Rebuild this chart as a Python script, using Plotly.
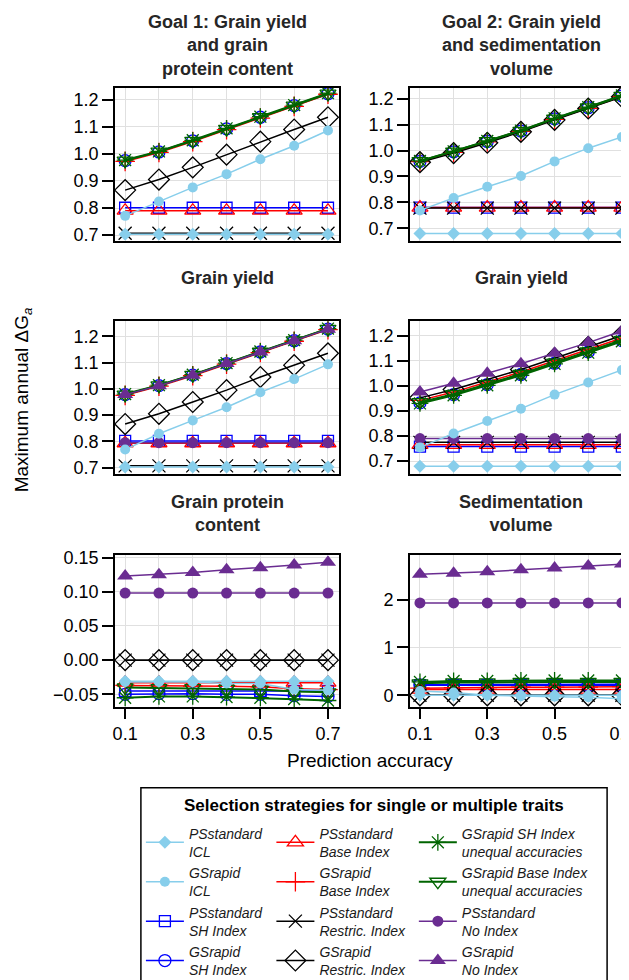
import plotly.graph_objects as go

# ---------------- data ----------------
accuracy = [0.1, 0.2, 0.3, 0.4, 0.5, 0.6, 0.7]
x_tickvals = [0.1, 0.3, 0.5, 0.7]

panel_titles = [
    "Goal 1: Grain yield<br>and grain<br>protein content",
    "Goal 2: Grain yield<br>and sedimentation<br>volume",
    "Grain yield",
    "Grain yield",
    "Grain protein<br>content",
    "Sedimentation<br>volume",
]

# values per panel (1..6); None = series not shown in that panel
PS_ICL = [
    [0.703, 0.703, 0.703, 0.703, 0.703, 0.703, 0.703],
    [0.680, 0.680, 0.680, 0.680, 0.680, 0.680, 0.680],
    [0.703, 0.703, 0.703, 0.703, 0.703, 0.703, 0.703],
    [0.680, 0.680, 0.680, 0.680, 0.680, 0.680, 0.680],
    [-0.031, -0.031, -0.031, -0.031, -0.031, -0.031, -0.031],
    [0.00, 0.00, 0.00, 0.00, 0.00, 0.00, 0.00],
]
GS_ICL = [
    [0.771, 0.824, 0.876, 0.925, 0.980, 1.030, 1.086],
    [0.769, 0.817, 0.860, 0.902, 0.958, 1.009, 1.052],
    [0.769, 0.829, 0.880, 0.930, 0.987, 1.037, 1.093],
    [0.755, 0.810, 0.860, 0.909, 0.965, 1.013, 1.063],
    [-0.032, -0.032, -0.032, -0.034, -0.034, -0.043, -0.044],
    [0.09, 0.06, 0.00, -0.02, -0.03, -0.04, -0.07],
]
PS_SH = [
    [0.801, 0.801, 0.801, 0.801, 0.801, 0.801, 0.801],
    [0.780, 0.780, 0.780, 0.780, 0.780, 0.780, 0.780],
    [0.802, 0.802, 0.802, 0.802, 0.802, 0.802, 0.802],
    [0.758, 0.758, 0.758, 0.758, 0.758, 0.758, 0.758],
    [-0.045, -0.045, -0.045, -0.045, -0.045, -0.045, -0.045],
    [0.21, 0.21, 0.21, 0.21, 0.21, 0.21, 0.21],
]
GS_SH = [
    [0.975, 1.007, 1.048, 1.092, 1.135, 1.178, 1.222],
    [0.958, 0.995, 1.035, 1.075, 1.122, 1.165, 1.210],
    [0.978, 1.012, 1.052, 1.096, 1.140, 1.183, 1.227],
    [0.932, 0.965, 1.005, 1.045, 1.090, 1.135, 1.180],
    [-0.050, -0.049, -0.049, -0.050, -0.050, -0.052, -0.053],
    [0.22, 0.22, 0.22, 0.23, 0.23, 0.23, 0.23],
]
PS_BASE = [
    [0.790, 0.790, 0.790, 0.790, 0.790, 0.790, 0.790],
    [0.780, 0.780, 0.780, 0.780, 0.780, 0.780, 0.780],
    [0.793, 0.793, 0.793, 0.793, 0.793, 0.793, 0.793],
    [0.765, 0.765, 0.765, 0.765, 0.765, 0.765, 0.765],
    [-0.033, -0.033, -0.033, -0.033, -0.033, -0.033, -0.033],
    [0.12, 0.12, 0.12, 0.12, 0.12, 0.12, 0.12],
]
GS_BASE = [
    [0.972, 1.005, 1.045, 1.089, 1.132, 1.175, 1.220],
    [0.957, 0.993, 1.033, 1.074, 1.120, 1.163, 1.208],
    [0.975, 1.010, 1.050, 1.094, 1.138, 1.181, 1.225],
    [0.942, 0.975, 1.015, 1.055, 1.100, 1.145, 1.190],
    [-0.037, -0.037, -0.038, -0.038, -0.039, -0.042, -0.043],
    [0.15, 0.16, 0.16, 0.17, 0.17, 0.17, 0.18],
]
PS_RES = [
    [0.707, 0.707, 0.707, 0.707, 0.707, 0.707, 0.707],
    [0.778, 0.778, 0.778, 0.778, 0.778, 0.778, 0.778],
    [0.707, 0.707, 0.707, 0.707, 0.707, 0.707, 0.707],
    [0.775, 0.775, 0.775, 0.775, 0.775, 0.775, 0.775],
    [0.000, 0.000, 0.000, 0.000, 0.000, 0.000, 0.000],
    [0.00, 0.00, 0.00, 0.00, 0.00, 0.00, 0.00],
]
GS_RES = [
    [0.866, 0.905, 0.950, 0.997, 1.045, 1.090, 1.135],
    [0.955, 0.990, 1.030, 1.072, 1.118, 1.162, 1.207],
    [0.866, 0.905, 0.950, 0.995, 1.045, 1.090, 1.135],
    [0.952, 0.985, 1.025, 1.065, 1.110, 1.155, 1.200],
    [0.000, 0.000, 0.000, 0.000, 0.000, 0.000, 0.000],
    [0.00, 0.00, 0.00, 0.00, 0.00, 0.00, 0.00],
]
GS_SH_UNEQ = [
    [0.977, 1.009, 1.050, 1.094, 1.137, 1.180, 1.224],
    [0.960, 0.997, 1.037, 1.077, 1.124, 1.167, 1.212],
    [0.980, 1.014, 1.054, 1.098, 1.142, 1.185, 1.229],
    [0.930, 0.962, 1.002, 1.042, 1.087, 1.132, 1.177],
    [-0.055, -0.053, -0.053, -0.054, -0.055, -0.057, -0.059],
    [0.28, 0.30, 0.30, 0.31, 0.31, 0.31, 0.31],
]
GS_BASE_UNEQ = [
    [0.975, 1.008, 1.048, 1.092, 1.135, 1.178, 1.222],
    [0.959, 0.996, 1.036, 1.076, 1.123, 1.166, 1.211],
    [0.978, 1.013, 1.053, 1.097, 1.141, 1.184, 1.228],
    [0.935, 0.967, 1.007, 1.047, 1.092, 1.137, 1.182],
    [-0.040, -0.041, -0.041, -0.042, -0.043, -0.046, -0.047],
    [0.25, 0.27, 0.27, 0.28, 0.28, 0.28, 0.28],
]
PS_NOI = [
    None,
    None,
    [0.795, 0.795, 0.795, 0.795, 0.795, 0.795, 0.795],
    [0.790, 0.790, 0.790, 0.790, 0.790, 0.790, 0.790],
    [0.098, 0.098, 0.098, 0.098, 0.098, 0.098, 0.098],
    [1.93, 1.93, 1.93, 1.93, 1.93, 1.93, 1.93],
]
GS_NOI = [
    None,
    None,
    [0.978, 1.012, 1.052, 1.096, 1.140, 1.183, 1.227],
    [0.975, 1.010, 1.050, 1.088, 1.130, 1.172, 1.218],
    [0.123, 0.125, 0.128, 0.132, 0.135, 0.139, 0.143],
    [2.53, 2.55, 2.58, 2.62, 2.66, 2.70, 2.74],
]

y_ranges = [
    [0.680, 1.243],
    [0.653, 1.241],
    [0.677, 1.257],
    [0.650, 1.257],
    [-0.0685, 0.153],
    [-0.244, 2.92],
]
y_dticks = [0.1, 0.1, 0.1, 0.1, 0.05, 1]
y_formats = [".1f", ".1f", ".1f", ".1f", ".2f", "d"]

legend_title = "Selection strategies for single or multiple traits"

SKY = "#87CEEB"
BLUE = "#0000FF"
RED = "#FF0000"
BLACK = "#000000"
GREEN = "#006400"
PURPLE = "#6A2C91"

# (name, data, color, symbol, size, legend column, rank, linewidth) -- drawing order
series = [
    ("PSstandard<br>SH Index", PS_SH, BLUE, "square-open", 11, "legend", 3, 1.5),
    ("GSrapid<br>SH Index", GS_SH, BLUE, "circle-open", 12, "legend", 4, 1.5),
    ("PSstandard<br>Base Index", PS_BASE, RED, "triangle-up-open", 14, "legend2", 1, 1.5),
    ("GSrapid<br>Base Index", GS_BASE, RED, "cross-thin-open", 14, "legend2", 2, 1.5),
    ("PSstandard<br>Restric. Index", PS_RES, BLACK, "x-thin-open", 13, "legend2", 3, 1.5),
    ("GSrapid<br>Restric. Index", GS_RES, BLACK, "diamond-open", 16, "legend2", 4, 1.5),
    ("GSrapid SH Index<br>unequal accuracies", GS_SH_UNEQ, GREEN, "asterisk-open", 14, "legend3", 1, 2),
    ("GSrapid Base Index<br>unequal accuracies", GS_BASE_UNEQ, GREEN, "triangle-down-open", 14, "legend3", 2, 2),
    ("PSstandard<br>No Index", PS_NOI, PURPLE, "circle", 11, "legend3", 3, 1.5),
    ("GSrapid<br>No Index", GS_NOI, PURPLE, "triangle-up", 14, "legend3", 4, 1.5),
    ("PSstandard<br>ICL", PS_ICL, SKY, "diamond", 10, "legend", 1, 1.5),
    ("GSrapid<br>ICL", GS_ICL, SKY, "circle", 10, "legend", 2, 1.5),
]

# ---------------- layout geometry (pixels) ----------------
W, H = 629, 980
ML, MR, MT, MB = 107, 2, 80, 279
PW = W - ML - MR
PH = H - MT - MB


def px_x(p):
    return (p - ML) / PW


def px_y(p):
    return (H - MB - p) / PH


def clamp(v):
    return min(1.0, max(0.0, v))


col_px = [(107, 332), (403, 627)]
row_px = [(80, 233), (314, 467), (549, 701)]

fig = go.Figure()
FONT = "Liberation Sans, Arial, sans-serif"

for name, data, color, symbol, size, leg, rank, lw in series:
    shown = False
    for i in range(6):
        vals = data[i]
        if vals is None:
            continue
        ax = "" if i == 0 else str(i + 1)
        open_sym = symbol.endswith("open")
        fig.add_trace(go.Scatter(
            x=accuracy, y=vals, mode="lines+markers",
            name=name, legend=leg, legendrank=rank, showlegend=not shown,
            line=dict(color=color, width=lw),
            marker=dict(symbol=symbol, size=size, color=color,
                        line=dict(color=color, width=1.3 if open_sym else 0)),
            xaxis="x" + ax, yaxis="y" + ax,
        ))
        shown = True

layout = dict(
    width=W, height=H,
    margin=dict(l=ML, r=MR, t=MT, b=MB),
    paper_bgcolor="white", plot_bgcolor="white",
    font=dict(family=FONT, size=18, color="black"),
    showlegend=True,
)

annotations = []
for i in range(6):
    r, c = divmod(i, 2)
    x0, x1 = col_px[c]
    y0, y1 = row_px[r]
    key = "" if i == 0 else str(i + 1)
    bottom = r == 2
    layout["xaxis" + key] = dict(
        domain=[clamp(px_x(x0)), clamp(px_x(x1))], anchor="y" + key,
        range=[0.07, 0.733],
        tickvals=x_tickvals,
        showticklabels=bottom, ticks="outside" if bottom else "",
        ticklen=10, tickwidth=2, tickcolor="black",
        showgrid=True, gridcolor="#E0E0E0", gridwidth=1,
        minor=dict(tickvals=accuracy, showgrid=True, gridcolor="#E0E0E0", gridwidth=1, ticks=""),
        showline=True, linecolor="black", linewidth=1.5, mirror=True,
        zeroline=False, tickfont=dict(size=18),
    )
    layout["yaxis" + key] = dict(
        domain=[clamp(px_y(y1)), clamp(px_y(y0))], anchor="x" + key,
        range=y_ranges[i], dtick=y_dticks[i], tick0=0,
        tickformat=y_formats[i],
        ticks="outside", ticklen=11, tickwidth=2, tickcolor="black",
        showgrid=True, gridcolor="#E0E0E0", gridwidth=1,
        showline=True, linecolor="black", linewidth=1.5, mirror=True,
        zeroline=False, tickfont=dict(size=18),
    )

title_centers_y = [37, 37, 271, 271, 507, 507]
for i, t in enumerate(panel_titles):
    r, c = divmod(i, 2)
    x0, x1 = col_px[c]
    annotations.append(dict(
        text="<b>" + t + "</b>", xref="paper", yref="paper",
        x=px_x((x0 + x1) / 2), y=px_y(title_centers_y[i]),
        xanchor="center", yanchor="middle", showarrow=False,
        font=dict(size=18, color="#262626", family=FONT),
    ))

annotations.append(dict(
    text="Maximum annual ΔG<sub><i>a</i></sub>", xref="paper", yref="paper",
    x=px_x(15), y=px_y(393), xanchor="center", yanchor="middle",
    textangle=-90, showarrow=False, font=dict(size=19, color="black", family=FONT),
))
annotations.append(dict(
    text="Prediction accuracy", xref="paper", yref="paper",
    x=px_x(363), y=px_y(755), xanchor="center", yanchor="middle",
    showarrow=False, font=dict(size=19, color="black", family=FONT),
))
annotations.append(dict(
    text="<b>" + legend_title + "</b>", xref="paper", yref="paper",
    x=px_x(367), y=px_y(800), xanchor="center", yanchor="middle",
    showarrow=False, font=dict(size=17, color="black", family=FONT),
))
layout["annotations"] = annotations

layout["shapes"] = [dict(
    type="rect", xref="paper", yref="paper",
    x0=px_x(133), x1=px_x(601), y0=px_y(995), y1=px_y(782),
    line=dict(color="black", width=1.5), fillcolor="rgba(0,0,0,0)", layer="above",
)]

leg_common = dict(
    orientation="v", traceorder="normal",
    xanchor="left", y=px_y(812), yanchor="top",
    borderwidth=0, bgcolor="rgba(0,0,0,0)",
    font=dict(family=FONT, size=14, style="italic", color="#1a1a1a"),
    itemwidth=38, valign="middle", tracegroupgap=0,
)
layout["legend"] = dict(x=px_x(133), **leg_common)
layout["legend2"] = dict(x=px_x(264), **leg_common)
layout["legend3"] = dict(x=px_x(407), **leg_common)

fig.update_layout(**layout)
fig.write_html("out.html")
